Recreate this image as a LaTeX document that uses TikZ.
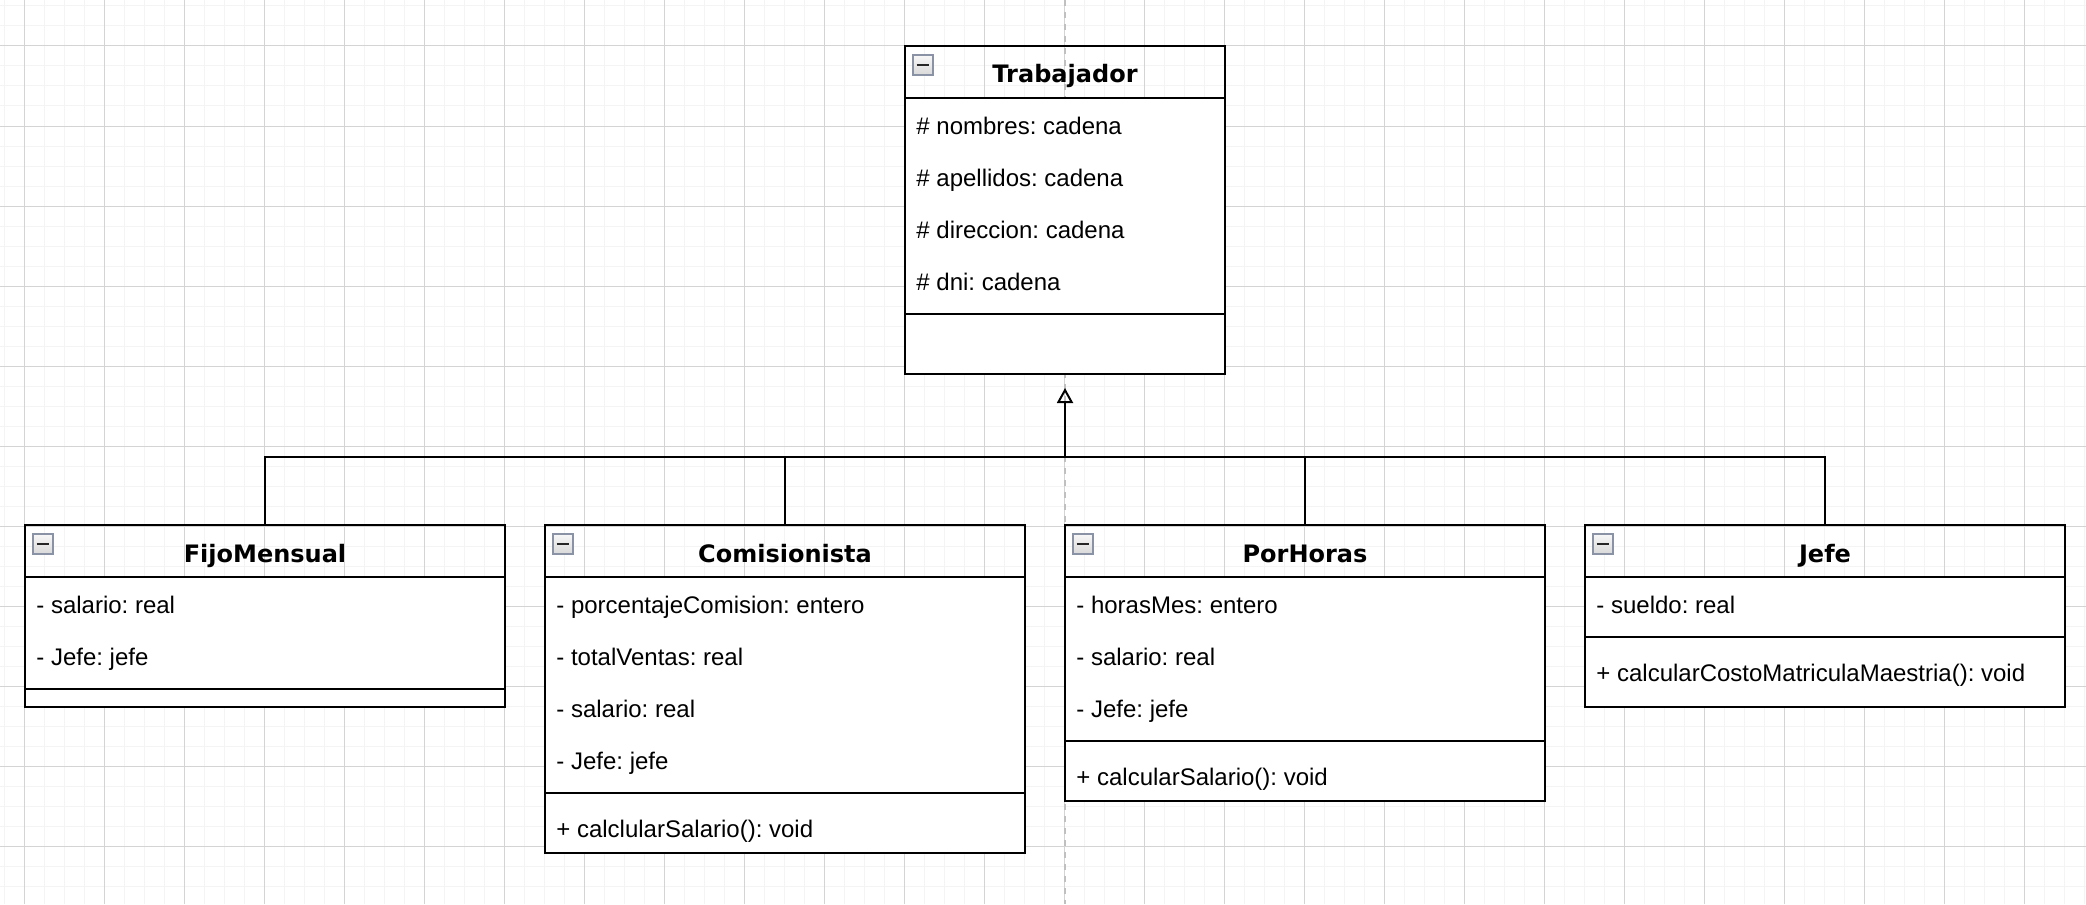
\documentclass[tikz,border=0pt]{standalone}
\usepackage{fontspec}
\setmainfont{Liberation Sans}
\newfontfamily\titlefont{DejaVu Sans}
\usetikzlibrary{arrows.meta}
\definecolor{gridminor}{HTML}{F4F4F4}
\definecolor{gridmajor}{HTML}{D4D4D4}
\definecolor{pagebreakc}{HTML}{C0C0C0}
\definecolor{iconborder}{HTML}{8A93A6}
\tikzset{
  classframe/.style={draw=black, line width=1pt, rectangle, inner sep=0pt, outer sep=0pt, anchor=north west},
  bodyfill/.style={fill=white},
  sepline/.style={line width=1pt},
  classtitle/.style={font=\titlefont\bfseries\fontsize{12pt}{14pt}\selectfont, anchor=base, inner sep=0pt},
  member/.style={font=\frenchspacing\fontsize{12pt}{14pt}\selectfont, anchor=base west, inner sep=0pt},
  icon/.style={draw=iconborder, line width=0.7pt, top color=gray!6, bottom color=gray!30, minimum size=10pt, inner sep=0pt, outer sep=0pt, anchor=north west, rectangle},
  iconbar/.style={line width=1pt, black!85},
  conn/.style={line width=1pt},
  inh/.style={conn, -{Triangle[open, length=7.5pt, width=8pt, line width=1pt]}},
  pagebreak/.style={pagebreakc, line width=1pt, dash pattern=on 3pt off 3pt},
}
\begin{document}
\begin{tikzpicture}[x=0.5pt, y=-0.5pt]
\useasboundingbox (0,0) rectangle (2086,904);
\fill[white] (0,0) rectangle (2086,904);
% grid
\foreach \x in {4,24,...,2084} \draw[gridminor, line width=0.5pt] (\x,0) -- (\x,904);
\foreach \y in {6,26,...,904} \draw[gridminor, line width=0.5pt] (0,\y) -- (2086,\y);
\foreach \x in {24,104,...,2084} \draw[gridmajor, line width=0.5pt] (\x,0) -- (\x,904);
\foreach \y in {46,126,...,904} \draw[gridmajor, line width=0.5pt] (0,\y) -- (2086,\y);
\draw[pagebreak] (1065,0) -- (1065,904);

% ---------- Trabajador ----------
\fill[bodyfill] (905,98) rectangle (1225,374);
\node[classframe, minimum width=160pt, minimum height=164pt] (trab) at (905,46) {};
\draw[sepline] (905,98) -- (1225,98);
\draw[sepline] (905,314) -- (1225,314);
\node[icon] (trabI) at (913,55) {};
\draw[iconbar] ([xshift=-3.2pt]trabI.center) -- ([xshift=3.2pt]trabI.center);
\node[classtitle] (trabT) at (1065,83) {Trabajador};
\node[member] (trabA) at (916,134) {\# nombres: cadena};
\node[member] (trabB) at (916,186) {\# apellidos: cadena};
\node[member] (trabC) at (916,238) {\# direccion: cadena};
\node[member] (trabD) at (916,290) {\# dni: cadena};

% ---------- FijoMensual ----------
\fill[bodyfill] (25,577) rectangle (505,707);
\node[classframe, minimum width=240pt, minimum height=91pt] (fijo) at (25,525) {};
\draw[sepline] (25,577) -- (505,577);
\draw[sepline] (25,689) -- (505,689);
\node[icon] (fijoI) at (33,534) {};
\draw[iconbar] ([xshift=-3.2pt]fijoI.center) -- ([xshift=3.2pt]fijoI.center);
\node[classtitle] (fijoT) at (265,562) {FijoMensual};
\node[member] (fijoA) at (36,613) {- salario: real};
\node[member] (fijoB) at (36,665) {- Jefe: jefe};

% ---------- Comisionista ----------
\fill[bodyfill] (545,577) rectangle (1025,853);
\node[classframe, minimum width=240pt, minimum height=164pt] (comi) at (545,525) {};
\draw[sepline] (545,577) -- (1025,577);
\draw[sepline] (545,793) -- (1025,793);
\node[icon] (comiI) at (553,534) {};
\draw[iconbar] ([xshift=-3.2pt]comiI.center) -- ([xshift=3.2pt]comiI.center);
\node[classtitle] (comiT) at (785,562) {Comisionista};
\node[member] (comiA) at (556,613) {- porcentajeComision: entero};
\node[member] (comiB) at (556,665) {- totalVentas: real};
\node[member] (comiC) at (556,717) {- salario: real};
\node[member] (comiD) at (556,769) {- Jefe: jefe};
\node[member] (comiM) at (556,837) {+ calclularSalario(): void};

% ---------- PorHoras ----------
\fill[bodyfill] (1065,577) rectangle (1545,801);
\node[classframe, minimum width=240pt, minimum height=138pt] (porh) at (1065,525) {};
\draw[sepline] (1065,577) -- (1545,577);
\draw[sepline] (1065,741) -- (1545,741);
\node[icon] (porhI) at (1073,534) {};
\draw[iconbar] ([xshift=-3.2pt]porhI.center) -- ([xshift=3.2pt]porhI.center);
\node[classtitle] (porhT) at (1305,562) {PorHoras};
\node[member] (porhA) at (1076,613) {- horasMes: entero};
\node[member] (porhB) at (1076,665) {- salario: real};
\node[member] (porhC) at (1076,717) {- Jefe: jefe};
\node[member] (porhM) at (1076,785) {+ calcularSalario(): void};

% ---------- Jefe ----------
\fill[bodyfill] (1585,577) rectangle (2065,707);
\node[classframe, minimum width=240pt, minimum height=91pt] (jefe) at (1585,525) {};
\draw[sepline] (1585,577) -- (2065,577);
\draw[sepline] (1585,637) -- (2065,637);
\node[icon] (jefeI) at (1593,534) {};
\draw[iconbar] ([xshift=-3.2pt]jefeI.center) -- ([xshift=3.2pt]jefeI.center);
\node[classtitle] (jefeT) at (1825,562) {Jefe};
\node[member] (jefeA) at (1596,613) {- sueldo: real};
\node[member] (jefeM) at (1596,681) {+ calcularCostoMatriculaMaestria(): void};

% ---------- inheritance ----------
\coordinate (bus) at (1065,457);
\draw[conn] (fijo.north) |- (bus);
\draw[conn] (comi.north) |- (bus);
\draw[conn] (porh.north) |- (bus);
\draw[conn] (jefe.north) |- (bus);
\draw[inh, shorten >=7pt] (bus) -- (trab.south);
\end{tikzpicture}
\end{document}
